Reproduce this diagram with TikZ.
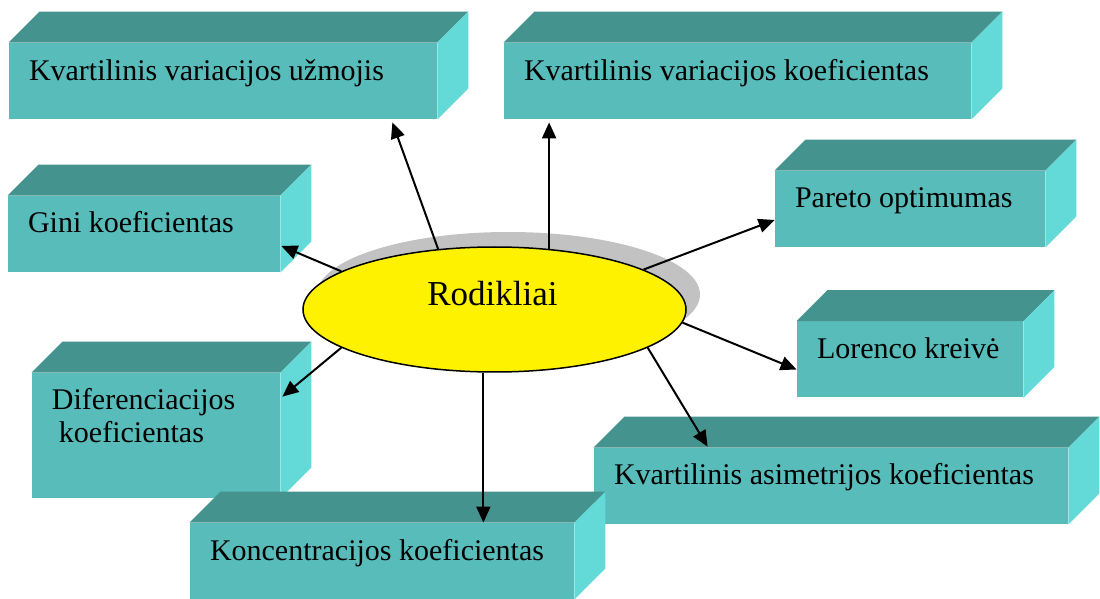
\documentclass[tikz,border=0pt]{standalone}
\usepackage{fontspec}
\setmainfont{Liberation Serif}
\usetikzlibrary{shapes.geometric, arrows.meta}
\definecolor{frontc}{RGB}{88,188,186}
\definecolor{topc}{RGB}{69,147,142}
\definecolor{sidec}{RGB}{99,218,216}
\definecolor{shadowc}{RGB}{194,194,194}

\begin{document}
\begin{tikzpicture}[x=0.5pt, y=-0.5pt,
  front/.style={rectangle, fill=frontc, inner sep=0pt, minimum height=38pt},
  lbl/.style={anchor=base west, inner sep=0pt, font=\fontsize{15}{18}\selectfont},
  oval/.style={ellipse, inner sep=0pt, minimum width=191.5pt, minimum height=62.5pt},
  arr/.style={-{Triangle[length=8pt,width=7pt]}, line width=1pt}]
\useasboundingbox (0,0) rectangle (1100,599);

\node[front, minimum width=214pt] (uzm) at (223,81) {};
\node[front, minimum width=233.5pt] (koef) at (737.5,81) {};
\node[front, minimum width=136pt] (gini) at (144,234) {};
\node[front, minimum width=135pt] (pareto) at (910,209) {};
\node[front, minimum width=113pt] (lorenco) at (910,359.5) {};
\node[front, minimum width=124pt, minimum height=62.5pt] (difer) at (156,435.5) {};
\node[front, minimum width=237pt] (asim) at (831,486) {};
\node[front, minimum width=192pt] (konc) at (382,561) {};

\foreach \b in {uzm,koef,gini,pareto,lorenco,difer,asim,konc} {
  \fill[topc] (\b.north west) -- ++(31,-31) -- ([shift={(31,-31)}]\b.north east) -- (\b.north east) -- cycle;
  \fill[sidec] (\b.north east) -- ++(31,-31) -- ([shift={(31,-31)}]\b.south east) -- (\b.south east) -- cycle;
}

\node[lbl] (uzmT) at ([shift={(20,38)}]uzm.north west) {Kvartilinis variacijos užmojis};
\node[lbl] (koefT) at ([shift={(20,38)}]koef.north west) {Kvartilinis variacijos koeficientas};
\node[lbl] (giniT) at ([shift={(20,37)}]gini.north west) {Gini koeficientas};
\node[lbl] (paretoT) at ([shift={(20,37)}]pareto.north west) {Pareto optimumas};
\node[lbl] (lorencoT) at ([shift={(20,37)}]lorenco.north west) {Lorenco kreivė};
\node[lbl] (diferT) at ([shift={(20,37)}]difer.north west) {Diferenciacijos};
\node[lbl] (diferT2) at ([shift={(27,70)}]difer.north west) {koeficientas};
\node[lbl] (asimT) at ([shift={(20,37)}]asim.north west) {Kvartilinis asimetrijos koeficientas};
\node[lbl] (koncT) at ([shift={(20,38)}]konc.north west) {Koncentracijos koeficientas};

\node[oval, fill=shadowc] (rodS) at (508.5,294.5) {};
\node[oval, draw, line width=0.75pt, fill=yellow] (rod) at (494.5,309.5) {};
\node[anchor=base, inner sep=0pt, font=\fontsize{17.5}{21}\selectfont] (rodT) at (492.5,306) {Rodikliai};

\draw[arr] (rod.133) -- ([shift={(-45,3)}]uzm.south east);
\draw[arr] (rod.48) -- ([yshift=-1.5pt]rod.48 |- koef.south);
\draw[arr] (rod.166) -- ([shift={(1,12)}]gini.east);
\draw[arr] (rod.15) -- ([shift={(0,11)}]pareto.west);
\draw[arr] (rod.356) -- ([shift={(0,10)}]lorenco.west);
\draw[arr] (rod.194) -- ([shift={(2,24)}]difer.north east);
\draw[arr] (rod.346) -- ([shift={(114,-1)}]asim.north west);
\draw[arr] (rod.260) -- (rod.260 |- konc.north);
\end{tikzpicture}
\end{document}
